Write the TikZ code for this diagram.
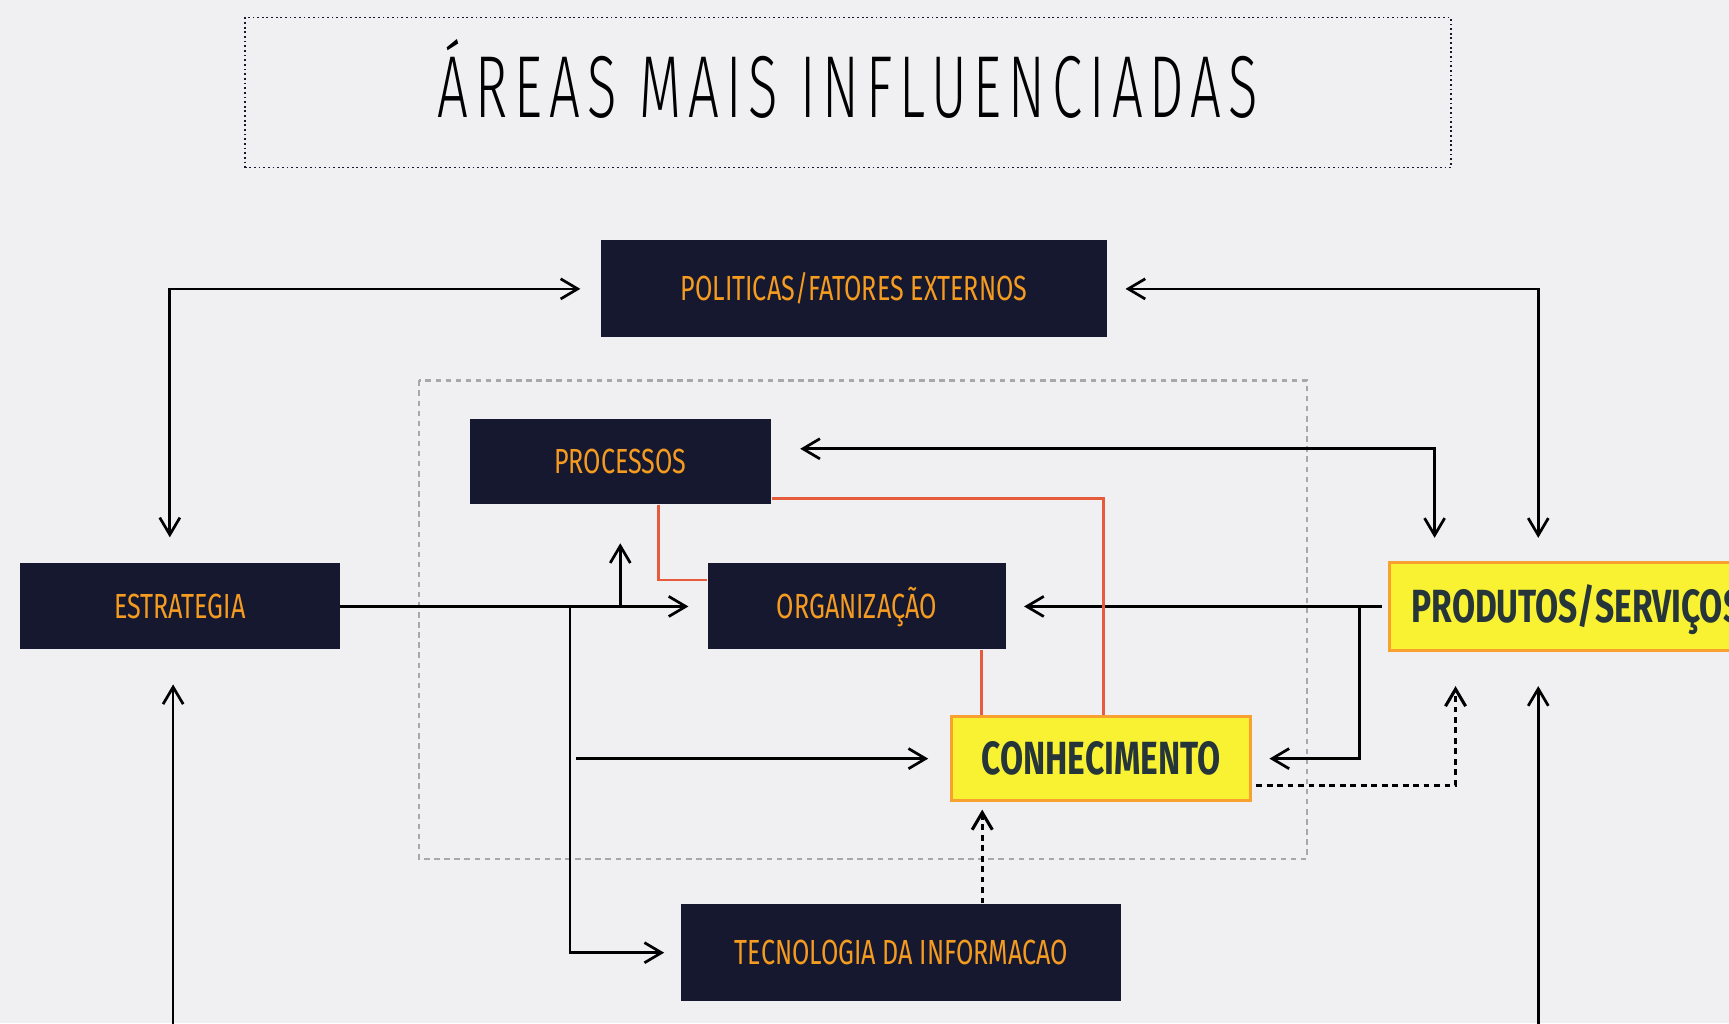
\documentclass[tikz,border=0pt]{standalone}
\usepackage{fontspec}
\setmainfont{Fira Sans}
\newfontfamily\rotulo[FakeStretch=0.72]{Fira Sans}
\newfontfamily\titulofont[FakeStretch=0.62, LetterSpace=8]{Fira Sans Light}
\usepackage{tikz}
\usetikzlibrary{arrows.meta}
\definecolor{fundo}{HTML}{F0EFF2}
\definecolor{azul}{HTML}{161830}
\definecolor{laranja}{HTML}{F49B20}
\definecolor{amarelo}{HTML}{F8F232}
\definecolor{borda}{HTML}{F8A030}
\definecolor{grafite}{HTML}{263539}
\definecolor{vermelho}{HTML}{E55B3C}
\definecolor{cinza}{HTML}{A8A8AA}

\begin{document}
\begin{tikzpicture}[
    moldura/.style={draw=azul, line width=0.45pt, dash pattern=on 0.45pt off 0.75pt, minimum width=10.94cm, minimum height=1.36cm, font=\titulofont\fontsize{22.7}{26}\selectfont, text height=13pt, text depth=0pt},
    caixa/.style={rectangle, fill=azul, text=laranja, inner sep=0pt, font=\rotulo\fontsize{9}{10}\selectfont, text height=6.2pt, text depth=0pt},
    destaque/.style={rectangle, draw=borda, line width=0.7pt, fill=amarelo, text=grafite, inner sep=0pt, font=\rotulo\bfseries\fontsize{12}{14}\selectfont, text height=8.3pt, text depth=0pt},
    seta/.style={-{Straight Barb[length=4.4pt,width=5.2pt]}, line width=0.7pt},
    dupla/.style={{Straight Barb[length=4.4pt,width=5.2pt]}-{Straight Barb[length=4.4pt,width=5.2pt]}, line width=0.7pt},
    tracejada/.style={dash pattern=on 1.5pt off 1.2pt, line width=0.8pt},
    ligacao/.style={draw=vermelho, line width=0.7pt},
    grupo/.style={draw=cinza, line width=0.6pt, dash pattern=on 1.4pt off 1.2pt}
]
    \fill[fundo] (0,0) rectangle (15.68,-9.28);
    \useasboundingbox (0,0) rectangle (15.68,-9.28);

    \node[moldura] (titulo) at (7.69,-0.84) {ÁREAS MAIS INFLUENCIADAS};
    \draw[grupo] (3.80,-3.45) rectangle (11.85,-7.79);

    \node[caixa, minimum width=4.59cm, minimum height=0.88cm] (politicas) at (7.745,-2.62) {POLITICAS/FATORES EXTERNOS};
    \node[caixa, minimum width=2.73cm, minimum height=0.77cm] (processos) at (5.625,-4.185) {PROCESSOS};
    \node[caixa, minimum width=2.90cm, minimum height=0.78cm] (estrategia) at (1.63,-5.50) {ESTRATEGIA};
    \node[caixa, minimum width=2.70cm, minimum height=0.78cm] (organizacao) at (7.77,-5.50) {ORGANIZAÇÃO};
    \node[caixa, minimum width=3.99cm, minimum height=0.88cm] (tecnologia) at (8.175,-8.64) {TECNOLOGIA DA INFORMACAO};
    \node[destaque, minimum width=2.71cm, minimum height=0.76cm] (conhecimento) at (9.985,-6.88) {CONHECIMENTO};
    \node[destaque, anchor=west, inner xsep=0.2cm, minimum height=0.80cm] (produtos) at (12.59,-5.50) {PRODUTOS/SERVIÇOS};

    \coordinate (garfo) at (5.17,-5.50);
    \coordinate (garfo2) at (12.33,-5.50);
    \coordinate (ti) at ([xshift=0.29cm]conhecimento.south west);
    \coordinate (org) at ([xshift=1.13cm]organizacao.south);
    \coordinate (baseE) at (1.57,-9.40);
    \coordinate (baseD) at (13.95,-9.40);

    \draw[dupla, shorten <=0.23cm, shorten >=0.18cm] ([xshift=-0.09cm]estrategia.north) |- (politicas.west);
    \draw[dupla, shorten <=0.16cm, shorten >=0.21cm] (politicas.east) -| ([xshift=1.36cm]produtos.north west);
    \draw[dupla, shorten <=0.26cm, shorten >=0.21cm] ([yshift=0.115cm]processos.east) -| ([xshift=0.42cm]produtos.north west);

    \draw[seta, shorten >=0.17cm] (estrategia.east) -- (organizacao.west);
    \draw[seta, shorten >=0.35cm] (processos.south |- estrategia.east) -- (processos.south);
    \draw[seta, shorten >=0.15cm] (garfo) |- (tecnologia.west);
    \draw[seta, shorten >=0.20cm] ([xshift=0.05cm]garfo |- conhecimento.west) -- (conhecimento.west);
    \draw[seta, shorten <=0.06cm, shorten >=0.16cm] (produtos.west) -- (organizacao.east);
    \draw[seta, shorten >=0.16cm] (garfo2) |- (conhecimento.east);
    \draw[seta, tracejada, shorten <=0.04cm, shorten >=0.31cm] ([yshift=-0.24cm]conhecimento.east) -| ([xshift=0.61cm]produtos.south west);
    \draw[seta, tracejada, shorten >=0.07cm] (ti |- tecnologia.north) -- (ti);
    \draw[seta, shorten >=0.31cm] (baseE) -- (baseE |- estrategia.south);
    \draw[seta, shorten >=0.31cm] (baseD) -- (baseD |- produtos.south);

    \draw[ligacao] ([xshift=0.345cm]processos.south) |- ([yshift=0.24cm]organizacao.west);
    \draw[ligacao] ([yshift=-0.335cm]processos.east) -| ([xshift=0.025cm]conhecimento.north);
    \draw[ligacao] (org) -- (org |- conhecimento.north);
\end{tikzpicture}
\end{document}
